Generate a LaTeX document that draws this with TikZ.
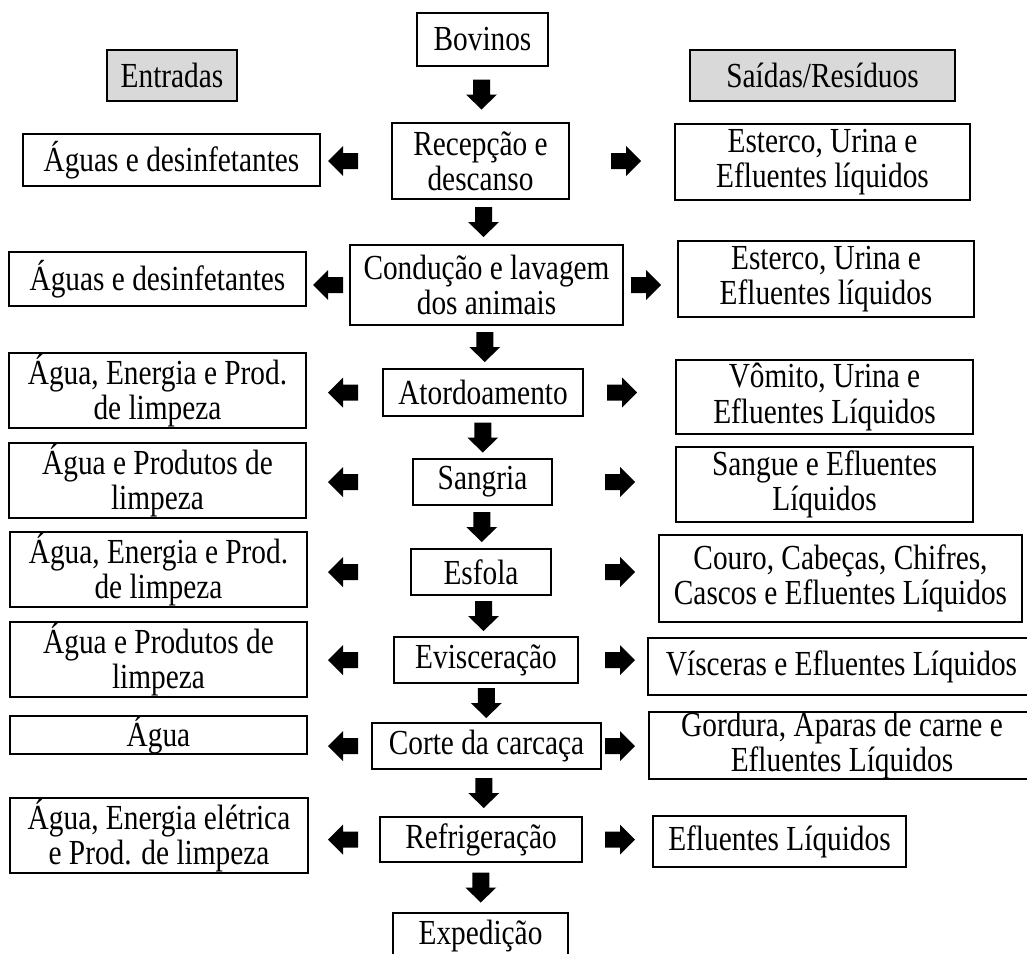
\documentclass[tikz,border=0pt]{standalone}
\usepackage{fontspec}
\usepackage{graphicx}
\setmainfont{Liberation Serif}
\usetikzlibrary{calc}
\newcommand{\vtxt}[1]{\scalebox{1}[1.2]{\vbox{\baselineskip=21.9pt\lineskiplimit=-100pt\lineskip=0pt\halign{\hfil##\hfil\cr#1\crcr}}}}
\newcommand{\procbox}[7][box]{\node[#1, minimum width={(#5-#3)*0.75pt}, minimum height={(#6-#4)*0.75pt}] (#2) at ({(#3+#5)/2},{(#4+#6)/2}) {\vtxt{#7}};}
\tikzset{
  box/.style={draw, line width=0.9pt, inner sep=0pt, font=\fontsize{22}{21.9}\selectfont},
  graybox/.style={box, fill=black!15},
  darr/.pic={\fill (-8.5,-15) -- (8.5,-15) -- (8.5,0) -- (15.5,0) -- (0,15) -- (-15.5,0) -- (-8.5,0) -- cycle;},
  larr/.pic={\fill (15,-8) -- (15,8) -- (0,8) -- (0,15) -- (-15,0) -- (0,-15) -- (0,-8) -- cycle;},
  rarr/.pic={\fill (-15,-8) -- (-15,8) -- (0,8) -- (0,15) -- (15,0) -- (0,-15) -- (0,-8) -- cycle;},
}
\begin{document}
\begin{tikzpicture}[x=0.75pt, y=-0.75pt]
\useasboundingbox (0,0) rectangle (1027,953);
\clip (0,0) rectangle (1027,953);
% headers
\procbox[graybox]{ent}{107}{50}{237}{101}{Entradas}
\procbox[graybox]{sai}{690}{50}{955}{101}{Saídas/Resíduos}
% process column
\procbox{bov}{417}{13}{548}{66}{Bovinos}
\procbox{p1}{392}{123}{569}{199}{Recepção e\cr descanso}
\procbox{p2}{350}{245}{623}{325}{Condução e lavagem\cr dos animais}
\procbox{p3}{383}{369}{583}{416}{Atordoamento}
\procbox{p4}{413}{459}{552}{505}{Sangria}
\procbox{p5}{411}{549}{551}{595}{Esfola}
\procbox{p6}{394}{637}{578}{683}{Evisceração}
\procbox{p7}{372}{723}{601}{769}{Corte da carcaça}
\procbox{p8}{380}{817}{582}{862}{Refrigeração}
\procbox{exp}{393}{913}{568}{959}{Expedição}
% inputs
\procbox{l1}{23}{134}{320}{186}{Águas e desinfetantes}
\procbox{l2}{9}{252}{306}{306}{Águas e desinfetantes}
\procbox{l3}{9}{353}{306}{428}{Água, Energia e Prod.\cr de limpeza}
\procbox{l4}{9}{443}{306}{518}{Água e Produtos de\cr limpeza}
\procbox{l5}{10}{532}{307}{607}{Água, Energia e Prod.\cr de limpeza}
\procbox{l6}{10}{622}{307}{697}{Água e Produtos de\cr limpeza}
\procbox{l7}{10}{716}{307}{754}{Água}
\procbox{l8}{10}{798}{308}{873}{Água, Energia elétrica\cr e Prod. de limpeza}
% outputs
\procbox{r1}{675}{124}{970}{200}{Esterco, Urina e\cr Efluentes líquidos}
\procbox{r2}{678}{241}{974}{317}{Esterco, Urina e\cr Efluentes líquidos}
\procbox{r3}{676}{360}{973}{434}{Vômito, Urina e\cr Efluentes Líquidos}
\procbox{r4}{676}{447}{973}{522}{Sangue e Efluentes\cr Líquidos}
\procbox{r5}{659}{535}{1022}{622}{Couro, Cabeças, Chifres,\cr Cascos e Efluentes Líquidos}
\procbox{r6}{648}{638}{1035}{695}{Vísceras e Efluentes Líquidos}
\procbox{r7}{649}{712}{1035}{779}{Gordura, Aparas de carne e\cr Efluentes Líquidos}
\procbox{r8}{653}{816}{906}{867}{Efluentes Líquidos}
% vertical flow arrows
\foreach \a/\b in {bov/p1,p1/p2,p2/p3,p3/p4,p4/p5,p5/p6,p6/p7,p7/p8,p8/exp}
  \pic at ($(\a.south)!0.5!(\b.north)$) {darr};
% input arrows
\pic at (343,0 |- p1.center) {larr};
\pic at (328,0 |- p2.center) {larr};
\foreach \p in {p3,p4,p5,p6,p7,p8}
  \pic at (343,0 |- \p.center) {larr};
% output arrows
\pic at (626,0 |- p1.center) {rarr};
\pic at (646,0 |- p2.center) {rarr};
\pic at (622,0 |- p3.center) {rarr};
\foreach \p in {p4,p5,p6,p7,p8}
  \pic at (620,0 |- \p.center) {rarr};
\end{tikzpicture}
\end{document}
